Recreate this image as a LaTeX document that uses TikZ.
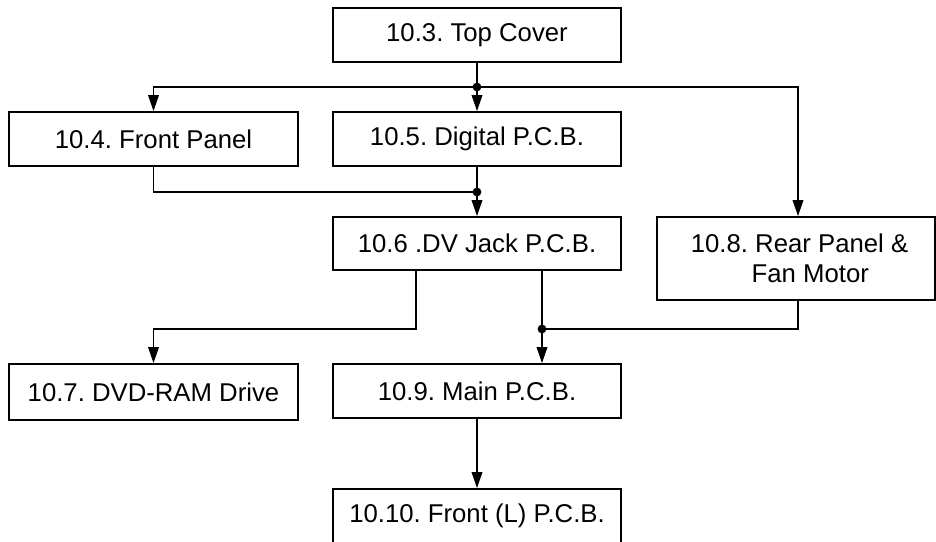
\documentclass[tikz,border=0pt]{standalone}
\usepackage{fontspec}
\setsansfont{Liberation Sans}
\usetikzlibrary{arrows.meta,positioning,calc}
\tikzset{
  box/.style={draw, line width=1.4pt, align=center, inner sep=0pt, minimum width=7.2cm, minimum height=1.35cm, font=\sffamily\fontsize{18.3}{21.3}\selectfont},
  edge/.style={-{Triangle[length=4mm, width=2.7mm]}, line width=0.8pt},
  wire/.style={line width=0.8pt},
  junction/.style={circle, fill, inner sep=0pt, minimum size=2.2mm},
}
\frenchspacing

\begin{document}
\begin{tikzpicture}
  \useasboundingbox (0,0) rectangle (23.4,-13.55);
  \node[box] (top) at (11.925,-0.875) {10.3. Top Cover};
  \node[box, minimum width=7.225cm] (front) at (3.8375,-3.475) {10.4. Front Panel};
  \node[box] (digital) at (11.925,-3.475) {10.5. Digital P.C.B.};
  \node[box, minimum height=1.325cm] (jack) at (11.925,-6.0875) {10.6 .DV Jack P.C.B.};
  \node[box, minimum width=6.95cm, minimum height=2.075cm] (rear) at (19.9,-6.4625) {\ 10.8. Rear Panel \&\\\ \ \ \ Fan Motor};
  \node[box, minimum width=7.225cm, minimum height=1.4cm] (dvd) at (3.8375,-9.8) {10.7. DVD-RAM Drive};
  \node[box] (main) at (11.925,-9.775) {10.9. Main P.C.B.};
  \node[box] (frontl) at (11.925,-12.9) {10.10. Front (L) P.C.B.};

  % branch points
  \node[junction] (j1) at (11.925,-2.175) {};
  \node[junction] (j2) at (11.925,-4.8) {};
  \node[junction] (j3) at (13.55,-8.225) {};
  \coordinate (bend) at (10.4,-8.225);

  \draw[wire] (top) -- (j1.center);
  \draw[edge] (j1.center) -- (digital);
  \draw[edge] (j1.center) -| (front.north);
  \draw[edge] (j1.center) -| ($(rear.north)+(0.05,0)$);

  \draw[wire] (digital) -- (j2.center);
  \draw[wire] (front.south) |- (j2.center);
  \draw[edge] (j2.center) -- (jack);

  \draw[edge] (bend |- jack.south) -- (bend) -| (dvd.north);
  \draw[wire] (j3 |- jack.south) -- (j3.center);
  \draw[wire] ($(rear.south)+(0.05,0)$) |- (j3.center);
  \draw[edge] (j3.center) -- (j3.center |- main.north);

  \draw[edge] (main) -- (frontl);
\end{tikzpicture}
\end{document}
